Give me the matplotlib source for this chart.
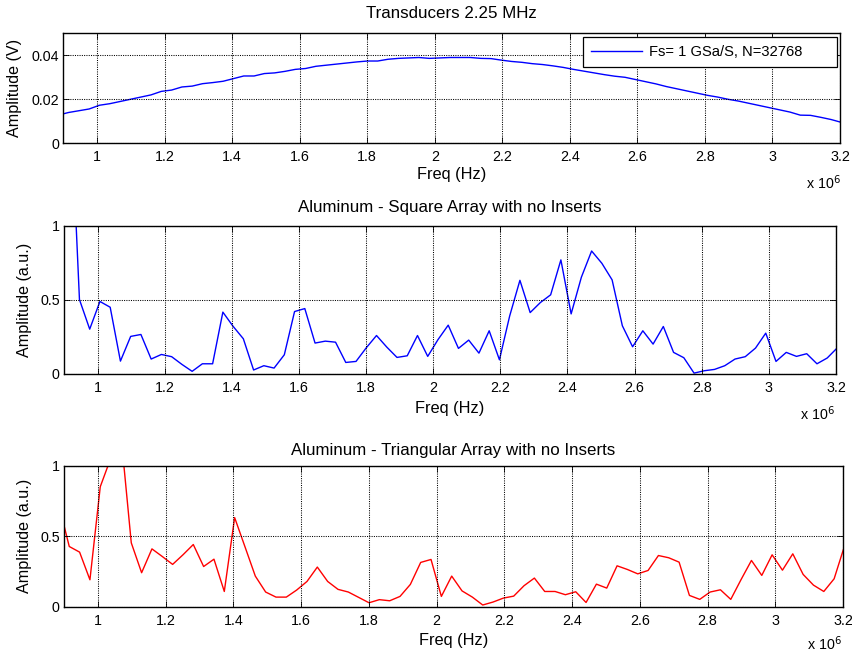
import numpy as np
import matplotlib
matplotlib.use("Agg")
import matplotlib.pyplot as plt
from matplotlib.ticker import FuncFormatter, FixedLocator

plt.rcParams['font.family'] = ['Liberation Sans', 'DejaVu Sans']

# ---------------- data ----------------
FS = 1e9          # sampling rate (Sa/s)
NFFT = 32768      # FFT length
bins = np.arange(29, 106)          # FFT bin indices shown (0.885 - 3.204 MHz)
freq_hz = bins * FS / NFFT

transducer_v = [0.0128, 0.0140, 0.0148, 0.0156, 0.0173, 0.0180, 0.0190, 0.0200, 0.0210, 0.0220,
                0.0236, 0.0242, 0.0256, 0.0260, 0.0271, 0.0276, 0.0282, 0.0294, 0.0306, 0.0306,
                0.0317, 0.0320, 0.0327, 0.0336, 0.0340, 0.0350, 0.0355, 0.0360, 0.0365, 0.0370,
                0.0374, 0.0374, 0.0382, 0.0386, 0.0388, 0.0390, 0.0386, 0.0388, 0.0390, 0.0390,
                0.0390, 0.0386, 0.0385, 0.0378, 0.0372, 0.0368, 0.0362, 0.0358, 0.0352, 0.0345,
                0.0336, 0.0328, 0.0320, 0.0312, 0.0305, 0.0300, 0.0290, 0.0280, 0.0270, 0.0258,
                0.0248, 0.0238, 0.0228, 0.0218, 0.0210, 0.0200, 0.0192, 0.0182, 0.0172, 0.0162,
                0.0152, 0.0142, 0.0128, 0.0127, 0.0118, 0.0108, 0.0095]

square_au = [2.60, 2.05, 0.501, 0.301, 0.488, 0.449, 0.085, 0.252, 0.265, 0.099,
             0.130, 0.115, 0.063, 0.016, 0.067, 0.067, 0.416, 0.320, 0.236, 0.025,
             0.054, 0.038, 0.128, 0.420, 0.440, 0.207, 0.220, 0.213, 0.076, 0.083,
             0.175, 0.258, 0.180, 0.110, 0.121, 0.258, 0.117, 0.230, 0.328, 0.171,
             0.227, 0.139, 0.290, 0.094, 0.390, 0.631, 0.413, 0.481, 0.533, 0.769,
             0.404, 0.652, 0.829, 0.746, 0.634, 0.324, 0.182, 0.290, 0.200, 0.319,
             0.144, 0.108, 0.004, 0.020, 0.029, 0.054, 0.099, 0.115, 0.173, 0.274,
             0.083, 0.144, 0.117, 0.135, 0.067, 0.106, 0.176]

triangular_au = [0.720, 0.427, 0.387, 0.191, 0.851, 1.050, 1.220, 0.453, 0.241, 0.410,
                 0.356, 0.300, 0.368, 0.441, 0.285, 0.337, 0.108, 0.632, 0.425, 0.217,
                 0.104, 0.068, 0.068, 0.118, 0.179, 0.281, 0.179, 0.123, 0.104, 0.066,
                 0.028, 0.050, 0.042, 0.073, 0.158, 0.314, 0.335, 0.073, 0.217, 0.112,
                 0.068, 0.012, 0.033, 0.061, 0.075, 0.149, 0.203, 0.108, 0.108, 0.085,
                 0.106, 0.030, 0.160, 0.132, 0.290, 0.264, 0.233, 0.257, 0.363, 0.347,
                 0.316, 0.080, 0.052, 0.104, 0.120, 0.052, 0.193, 0.328, 0.222, 0.368,
                 0.259, 0.375, 0.229, 0.153, 0.108, 0.198, 0.430]

x_ticks_mhz = [1, 1.2, 1.4, 1.6, 1.8, 2, 2.2, 2.4, 2.6, 2.8, 3, 3.2]
titles = ["Transducers 2.25 MHz",
          "Aluminum - Square Array with no Inserts",
          "Aluminum - Triangular Array with no Inserts"]
ylabels = ["Amplitude (V)", "Amplitude (a.u.)", "Amplitude (a.u.)"]
legend_label = "Fs= 1 GSa/S, N=32768"

# ---------------- figure ----------------
W, H = 852, 654
fig = plt.figure(figsize=(W / 100, H / 100), dpi=100)


def px_axes(left, top, right, bottom):
    return fig.add_axes([left / W, 1 - bottom / H, (right - left) / W, (bottom - top) / H])


def fy(y):
    return 1 - y / H


boxes = [(63.3, 33.3, 840.0, 143.3),
         (64.0, 225.7, 836.0, 373.7),
         (64.0, 465.7, 843.0, 606.7)]
series = [transducer_v, square_au, triangular_au]
colors = ['#0000ff', '#0000ff', '#ff0000']
ylims = [(0, 0.05), (0, 1), (0, 1)]
yticks = [[0, 0.02, 0.04], [0, 0.5, 1], [0, 0.5, 1]]
ytick_labels = [['0', '0.02', '0.04'], ['0', '0.5', '1'], ['0', '0.5', '1']]
title_y = [13, 208, 450]
xlabel_y = [175, 409, 640]
ylabel_x = [15, 25, 25]
offset_base = [189, 420, 650]
offset_x = [806, 800, 807]

for i, (box, ys) in enumerate(zip(boxes, series)):
    ax = px_axes(*box)
    ax.plot(freq_hz, ys, color=colors[i], lw=1.0, label=legend_label)
    ax.set_xlim(0.9e6, 3.2e6)
    ax.set_ylim(*ylims[i])
    ax.xaxis.set_major_locator(FixedLocator([v * 1e6 for v in x_ticks_mhz]))
    ax.xaxis.set_major_formatter(FuncFormatter(lambda v, p: '%g' % round(v / 1e6, 3)))
    ax.set_yticks(yticks[i])
    ax.set_yticklabels(ytick_labels[i])
    ax.tick_params(direction='in', top=True, right=True, length=4, width=0.6,
                   labelsize=10.3, colors='k')
    ax.tick_params(axis='x', pad=5)
    ax.tick_params(axis='y', pad=3)
    for s in ax.spines.values():
        s.set_linewidth(1.0)
        s.set_color('k')
    ax.grid(True, linestyle=(0, (1, 1.2)), color='k', lw=0.75)
    ax.set_axisbelow(False)

    cx = (box[0] + box[2]) / 2 / W
    fig.text(cx, fy(title_y[i]), titles[i], ha='center', va='center', fontsize=12.2)
    fig.text(cx, fy(xlabel_y[i]), "Freq (Hz)", ha='center', va='center', fontsize=11.8)
    fig.text(ylabel_x[i] / W, fy((box[1] + box[3]) / 2), ylabels[i], rotation=90,
             ha='center', va='center', fontsize=11.6)
    fig.text(offset_x[i] / W, fy(offset_base[i]), r'x 10$^{6}$', ha='left', va='baseline',
             fontsize=10.3)

    if i == 0:
        ax_w = box[2] - box[0]
        ax_h = box[3] - box[1]
        x0 = (582.7 - box[0]) / ax_w
        x1 = (837.3 - box[0]) / ax_w
        ytop = (box[3] - 36.7) / ax_h
        leg = ax.legend(loc='upper left', bbox_to_anchor=(x0, ytop, x1 - x0, 0.0),
                        mode='expand', borderaxespad=0, fontsize=10.6,
                        handlelength=3.5, handletextpad=0.45, borderpad=0.55,
                        fancybox=False, framealpha=1, edgecolor='k')
        leg.get_frame().set_linewidth(0.9)

fig.savefig('out.png', dpi=100)
